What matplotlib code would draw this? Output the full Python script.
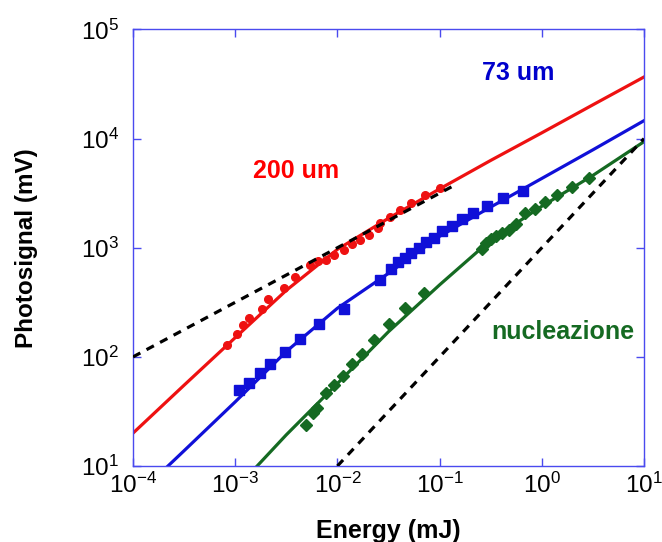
import matplotlib
matplotlib.use("Agg")
import matplotlib.pyplot as plt

plt.rcParams['font.family'] = ['Liberation Sans', 'DejaVu Sans']
plt.rcParams['mathtext.fontset'] = 'custom'
plt.rcParams['mathtext.rm'] = 'Liberation Sans'
plt.rcParams['mathtext.it'] = 'Liberation Sans'
plt.rcParams['axes.unicode_minus'] = False

# measured points, 200 um
red_x = [8.34e-4, 1.045e-3, 1.18e-3, 1.35e-3, 1.81e-3, 2.10e-3, 3.01e-3, 3.82e-3,
         5.42e-3, 6.39e-3, 7.76e-3, 9.3e-3, 1.17e-2, 1.40e-2, 1.67e-2, 2.02e-2,
         2.51e-2, 2.63e-2, 3.29e-2, 4.12e-2, 5.22e-2, 7.16e-2, 0.1005]
red_y = [128, 162, 196, 229, 277, 342, 427, 535,
         701, 755, 779, 857, 952, 1075, 1177, 1321,
         1506, 1695, 1923, 2216, 2570, 3040, 3560]

# measured points, 73 um
blue_x = [1.10e-3, 1.35e-3, 1.73e-3, 2.20e-3, 3.05e-3, 4.28e-3, 6.67e-3, 1.17e-2,
          2.63e-2, 3.37e-2, 3.96e-2, 4.61e-2, 5.28e-2, 6.25e-2, 7.32e-2, 8.73e-2,
          0.1055, 0.132, 0.166, 0.212, 0.288, 0.418, 0.650]
blue_y = [49.7, 57.2, 71.4, 85.3, 112, 145, 199, 272,
          511, 638, 739, 800, 894, 993, 1135, 1227,
          1422, 1581, 1833, 2094, 2411, 2856, 3311]

# measured points, nucleazione
green_x = [4.90e-3, 5.83e-3, 6.30e-3, 7.68e-3, 9.16e-3, 1.13e-2, 1.39e-2, 1.74e-2,
           2.26e-2, 3.17e-2, 4.56e-2, 7.03e-2, 0.262, 0.287, 0.321, 0.359,
           0.411, 0.482, 0.564, 0.690, 0.855, 1.08, 1.40, 1.98, 2.88]
green_y = [23.7, 30.3, 34.3, 46.2, 55.2, 66.2, 85.9, 106,
           143, 201, 283, 385, 973, 1104, 1202, 1280,
           1365, 1453, 1648, 2094, 2277, 2641, 3040, 3622, 4400]

# fitted curves
red_fit_x = [1e-4, 3.16e-4, 1e-3, 3.16e-3, 1e-2, 3.16e-2, 0.1, 0.316, 1, 3.16, 10]
red_fit_y = [20, 55, 150, 407, 966, 1862, 3460, 6310, 11300, 20400, 36700]

blue_fit_x = [2.2e-4, 3.16e-4, 1e-3, 3.16e-3, 1e-2, 3.16e-2, 0.1, 0.316, 1, 3.16, 10]
blue_fit_y = [10, 13.8, 38.7, 112, 279, 583, 1274, 2360, 4315, 7890, 14600]

green_fit_x = [1.64e-3, 3.16e-3, 1e-2, 3.16e-2, 0.1, 0.316, 1, 3.16, 10]
green_fit_y = [10, 19.3, 57, 170, 457, 1175, 2400, 4600, 9380]

# dashed reference slopes
sqrt_x = [1e-4, 0.14]
sqrt_y = [100, 3740]
lin_x = [1e-2, 10]
lin_y = [10, 1e4]

c_red = '#ee1111'
c_blue = '#1010d8'
c_green = '#156a22'
c_axis = '#4a4aef'

fig = plt.figure(figsize=(6.62, 5.42), dpi=100)
ax = fig.add_axes([0.2009, 0.1402, 0.7719, 0.8054])

ax.plot(red_x, red_y, 'o', color=c_red, markersize=5.5, zorder=3)
ax.plot(blue_x, blue_y, 's', color=c_blue, markersize=6.5, zorder=3)
ax.plot(green_x, green_y, 'D', color=c_green, markersize=6.5, zorder=3)

ax.plot(red_fit_x, red_fit_y, '-', color=c_red, lw=2.3, zorder=2)
ax.plot(blue_fit_x, blue_fit_y, '-', color=c_blue, lw=2.3, zorder=2)
ax.plot(green_fit_x, green_fit_y, '-', color=c_green, lw=2.3, zorder=2)

ax.plot(sqrt_x, sqrt_y, color='black', lw=2.3, dashes=(2.6, 2.2), zorder=4)
ax.plot(lin_x, lin_y, color='black', lw=2.3, dashes=(2.6, 2.2), zorder=4)

ax.set_xscale('log')
ax.set_yscale('log')
ax.set_xlim(1e-4, 10)
ax.set_ylim(10, 1e5)
ax.minorticks_off()

for s in ax.spines.values():
    s.set_color(c_axis)
    s.set_linewidth(1.0)
ax.tick_params(which='major', direction='in', length=6, width=1, color=c_axis,
               top=True, right=True, labelsize=17.5)
ax.tick_params(axis='x', pad=5)
ax.tick_params(axis='y', pad=10)

ax.set_xlabel('Energy (mJ)', fontsize=18, fontweight='bold')
ax.set_ylabel('Photosignal (mV)', fontsize=17.5, fontweight='bold')
ax.xaxis.set_label_coords(0.5, -0.121)
ax.yaxis.set_label_coords(-0.186, 0.5)

ax.text(3.94e-3, 5100, '200 um', color='#ff0000', fontsize=18, fontweight='bold',
        ha='center', va='center')
ax.text(0.59, 39900, '73 um', color='#0000cc', fontsize=18, fontweight='bold',
        ha='center', va='center')
ax.text(1.59, 169, 'nucleazione', color=c_green, fontsize=18, fontweight='bold',
        ha='center', va='center')

fig.savefig('out.png', dpi=100)
